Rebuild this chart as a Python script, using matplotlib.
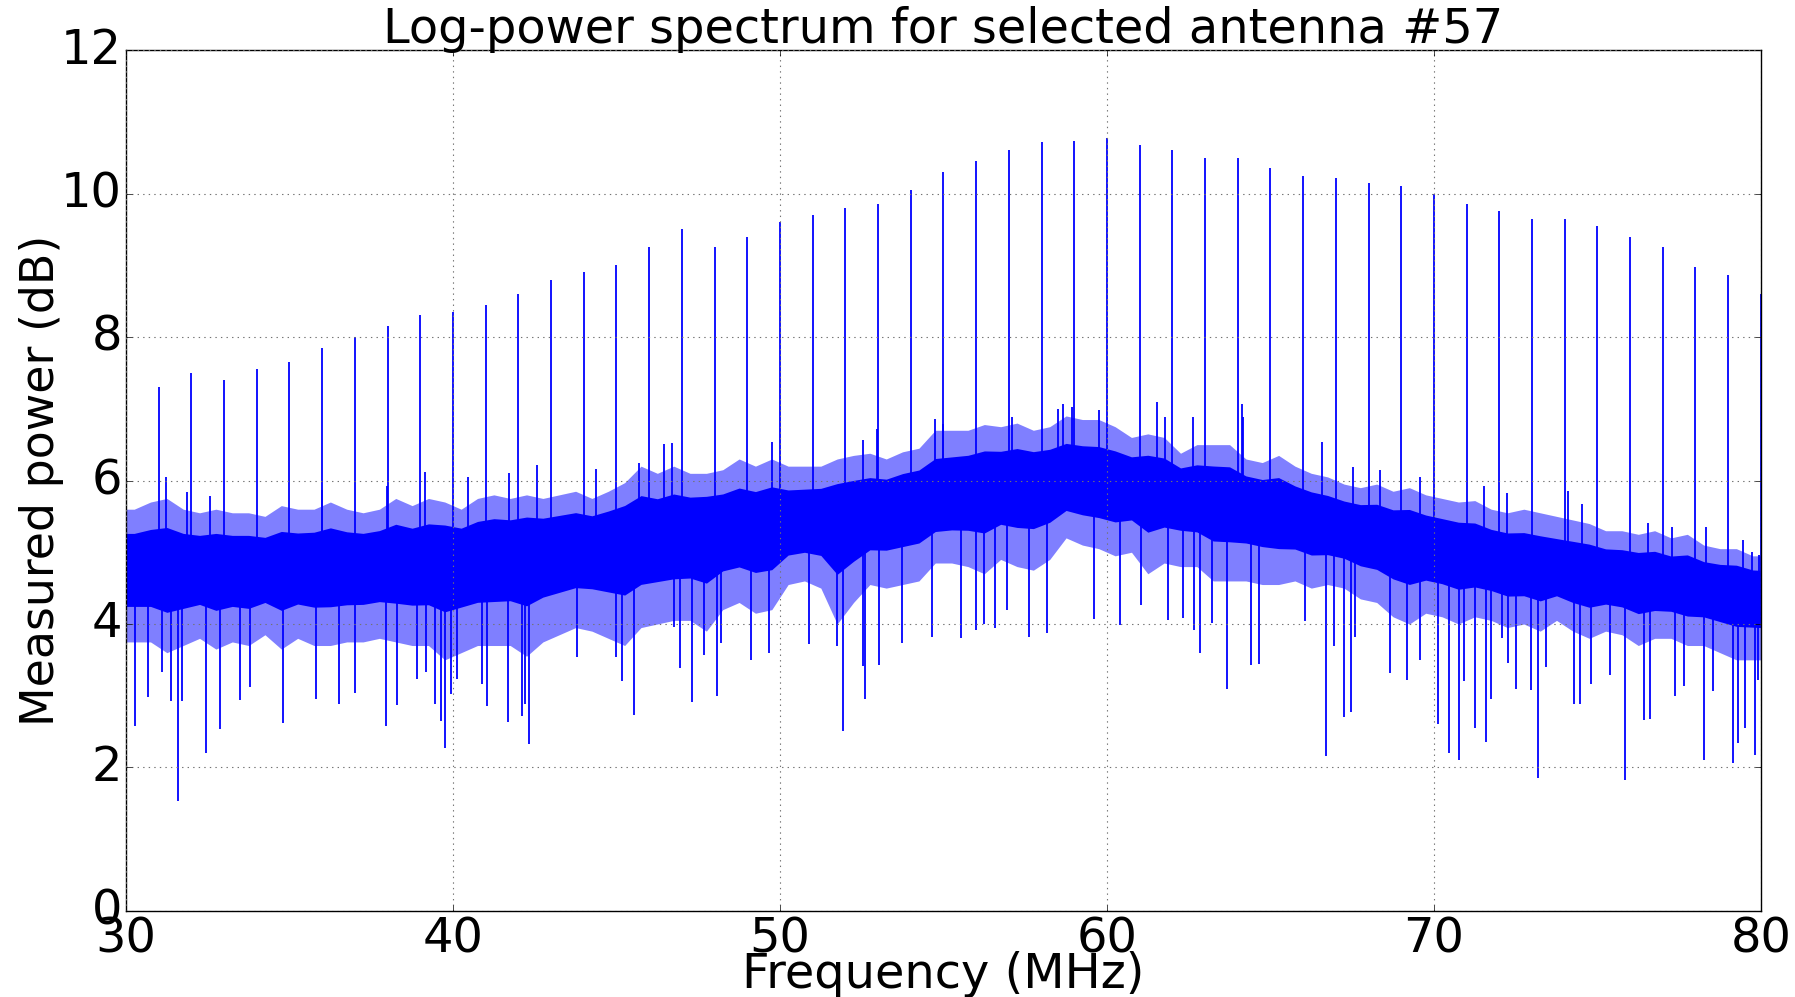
import numpy as np
import matplotlib
matplotlib.use('Agg')
import matplotlib.pyplot as plt

#%% values
# centre of the dense noise floor per MHz (dB)
freq_mhz = np.arange(30, 81)
band_mid = [4.85, 4.85, 4.85, 4.85, 4.85, 4.85, 4.9, 4.9, 4.95, 4.95,
            5.0, 5.05, 5.1, 5.15, 5.2, 5.25, 5.3, 5.35, 5.4, 5.4,
            5.45, 5.5, 5.55, 5.65, 5.75, 5.85, 5.95, 6.0, 6.05, 6.05,
            6.0, 6.0, 5.95, 5.85, 5.8, 5.7, 5.55, 5.45, 5.35, 5.25,
            5.15, 5.05, 4.95, 4.85, 4.8, 4.75, 4.7, 4.65, 4.6, 4.55, 4.5]

# noise in 0.5 MHz bins (30.0-30.5, 30.5-31.0, ...): upper and lower reach of the trace (dB)
bin_start = np.arange(30.0, 80.0, 0.5)
noise_hi = [5.6, 5.7, 5.75, 5.6, 5.55, 5.6, 5.55, 5.55, 5.5, 5.65,
            5.6, 5.6, 5.7, 5.6, 5.55, 5.6, 5.75, 5.65, 5.75, 5.7,
            5.6, 5.75, 5.8, 5.75, 5.8, 5.75, 5.8, 5.85, 5.75, 5.85,
            5.97, 6.2, 6.1, 6.2, 6.1, 6.1, 6.15, 6.3, 6.2, 6.3,
            6.2, 6.2, 6.2, 6.3, 6.35, 6.38, 6.3, 6.4, 6.45, 6.7,
            6.7, 6.7, 6.78, 6.75, 6.8, 6.7, 6.75, 6.9, 6.85, 6.85,
            6.75, 6.6, 6.65, 6.6, 6.38, 6.5, 6.5, 6.5, 6.3, 6.25,
            6.35, 6.2, 6.1, 6.05, 5.95, 5.9, 5.95, 5.85, 5.9, 5.8,
            5.75, 5.7, 5.72, 5.6, 5.55, 5.6, 5.55, 5.5, 5.45, 5.4,
            5.3, 5.3, 5.25, 5.3, 5.2, 5.25, 5.1, 5.05, 5.05, 4.95]
noise_lo = [3.75, 3.75, 3.6, 3.7, 3.8, 3.65, 3.75, 3.7, 3.85, 3.65,
            3.8, 3.7, 3.7, 3.75, 3.75, 3.8, 3.75, 3.7, 3.7, 3.5,
            3.6, 3.7, 3.7, 3.7, 3.55, 3.75, 3.85, 3.95, 3.9, 3.8,
            3.7, 3.95, 4.0, 4.05, 4.05, 3.9, 4.2, 4.3, 4.15, 4.2,
            4.55, 4.6, 4.5, 4.0, 4.3, 4.55, 4.5, 4.55, 4.6, 4.85,
            4.85, 4.8, 4.7, 4.9, 4.8, 4.75, 4.9, 5.2, 5.1, 5.05,
            4.95, 5.0, 4.7, 4.85, 4.8, 4.8, 4.6, 4.6, 4.6, 4.55,
            4.55, 4.6, 4.5, 4.55, 4.5, 4.35, 4.3, 4.1, 4.0, 4.15,
            4.1, 4.0, 4.1, 4.05, 3.95, 4.0, 3.9, 4.05, 3.9, 3.8,
            3.9, 3.85, 3.7, 3.8, 3.8, 3.7, 3.7, 3.6, 3.5, 3.5]

# narrow comb lines at every MHz
spike_f = np.arange(31, 81)
spike_db = [7.3, 7.5, 7.4, 7.55, 7.65, 7.85, 8.0, 8.15, 8.3, 8.35,
            8.45, 8.6, 8.8, 8.9, 9.0, 9.25, 9.5, 9.25, 9.4, 9.6,
            9.7, 9.8, 9.85, 10.05, 10.3, 10.45, 10.6, 10.72, 10.73, 10.78,
            10.68, 10.6, 10.5, 10.5, 10.35, 10.25, 10.22, 10.15, 10.1, 10.0,
            9.85, 9.75, 9.65, 9.65, 9.55, 9.4, 9.25, 8.97, 8.87, 8.6]

# deep dips of the noise
dip_f = [30.28, 30.68, 31.1, 31.38, 31.58, 31.7, 32.45, 32.87, 33.5, 33.8,
         34.8, 35.8, 36.5, 37.0, 37.94, 38.28, 38.91, 39.18, 39.45, 39.63,
         39.76, 39.94, 40.12, 40.9, 41.04, 41.69, 42.1, 42.2, 42.32, 43.79,
         45.0, 45.18, 45.54, 46.75, 46.95, 47.32, 47.69, 48.08, 48.19, 49.11,
         49.67, 50.88, 51.74, 51.93, 52.53, 52.61, 53.04, 53.72, 54.64, 55.53,
         55.99, 56.24, 56.58, 56.93, 57.62, 58.18, 59.61, 60.41, 61.03, 61.88,
         62.34, 62.67, 62.85, 63.2, 63.68, 64.4, 64.66, 66.06, 66.7, 66.93,
         67.25, 67.47, 67.59, 68.67, 69.17, 69.56, 70.14, 70.45, 70.76, 70.93,
         71.26, 71.58, 71.74, 72.07, 72.28, 72.51, 72.96, 73.19, 73.43, 74.27,
         74.47, 74.8, 75.39, 75.84, 76.44, 76.6, 77.37, 77.64, 78.25, 78.52,
         79.16, 79.29, 79.52, 79.82, 79.92]
dip_db = [2.58, 2.98, 3.33, 2.93, 1.53, 2.92, 2.2, 2.53, 2.94, 3.12,
          2.62, 2.95, 2.89, 3.04, 2.58, 2.87, 3.24, 3.33, 2.89, 2.65,
          2.27, 3.03, 3.23, 3.16, 2.85, 2.64, 2.72, 2.89, 2.33, 3.54,
          3.54, 3.21, 2.73, 3.96, 3.38, 2.91, 3.57, 3.0, 3.73, 3.5,
          3.59, 3.72, 3.7, 2.51, 3.41, 2.95, 3.43, 3.74, 3.82, 3.81,
          3.91, 4.0, 3.94, 4.19, 3.82, 3.87, 4.07, 3.98, 4.26, 4.06,
          4.09, 3.91, 3.59, 4.02, 3.1, 3.43, 3.44, 4.04, 2.16, 3.7,
          2.71, 2.78, 3.82, 3.32, 3.22, 3.5, 2.6, 2.2, 2.11, 3.2,
          2.55, 2.35, 2.96, 3.8, 3.46, 3.1, 3.08, 1.86, 3.4, 2.88,
          2.89, 3.17, 3.29, 1.82, 2.66, 2.68, 2.99, 3.14, 2.11, 3.07,
          2.06, 2.34, 2.55, 2.18, 3.22]

# tallest noise peaks (not the comb lines)
peak_f = [31.22, 31.86, 32.57, 35.98, 37.97, 39.15, 40.45, 41.71, 42.56, 44.38,
          45.69, 46.44, 46.71, 49.75, 52.53, 52.96, 54.74, 54.98, 57.09, 58.5,
          58.65, 58.92, 59.77, 61.52, 61.78, 62.64, 64.12, 64.17, 66.57, 67.52,
          68.35, 69.58, 71.54, 72.25, 74.11, 74.54, 76.56, 77.27, 78.31, 79.46,
          79.72, 79.95]
peak_db = [6.05, 5.84, 5.79, 5.87, 5.93, 6.12, 6.05, 6.1, 6.21, 6.16,
           6.24, 6.51, 6.52, 6.54, 6.57, 6.72, 6.86, 6.79, 6.89, 7.0,
           7.07, 7.03, 6.98, 7.1, 6.89, 6.89, 7.07, 6.89, 6.54, 6.19,
           6.14, 6.05, 5.92, 5.83, 5.86, 5.67, 5.41, 5.35, 5.35, 5.17,
           5.0, 4.96]

#%% plot
plt.style.use('classic')
fs = 34.5
plt.rcParams['font.size'] = fs
plt.rcParams['xtick.major.pad'] = 3
plt.rcParams['ytick.major.pad'] = 3
blue = '#0000ff'

fig = plt.figure(figsize=(17.95, 9.97), dpi=100, facecolor='white')
ax = fig.add_axes([0.0702, 0.0863, 0.9108, 0.8635])
ax.set_facecolor('white')

# bins drawn edge to edge (first/last bin held out to the axis ends)
bin_x = np.r_[30.0, bin_start + 0.25, 80.0]
hi = np.r_[noise_hi[0], noise_hi, noise_hi[-1]]
lo = np.r_[noise_lo[0], noise_lo, noise_lo[-1]]
mid_at = lambda f: np.interp(f, freq_mhz, band_mid)
centre = mid_at(bin_x)

# outer reach of the noise: half covered by strokes
ax.fill_between(bin_x, lo, hi, color=blue, alpha=0.5, lw=0)
# dense core of the trace
ax.fill_between(bin_x, centre - 0.55 * (centre - lo), centre + 0.55 * (hi - centre),
                color=blue, lw=0)

# isolated strokes: dips, peaks and comb lines, each from the floor centre
ax.vlines(dip_f, mid_at(dip_f), dip_db, color=blue, lw=1.3)
ax.vlines(peak_f, mid_at(peak_f), peak_db, color=blue, lw=1.3)
ax.vlines(spike_f, mid_at(spike_f), spike_db, color=blue, lw=1.3)

ax.set_xlim(30, 80)
ax.set_ylim(0, 12)
ax.set_xticks(range(30, 81, 10))
ax.set_yticks(range(0, 13, 2))
ax.grid(True, color='0.45', linestyle=':', linewidth=0.8)
ax.set_title('Log-power spectrum for selected antenna #57', fontsize=fs)
ax.set_xlabel('Frequency (MHz)', fontsize=fs)
ax.set_ylabel('Measured power (dB)', fontsize=33)
ax.xaxis.set_label_coords(0.5, -0.047)
ax.yaxis.set_label_coords(-0.038, 0.5)

fig.savefig('out.png', dpi=100, facecolor='white')
